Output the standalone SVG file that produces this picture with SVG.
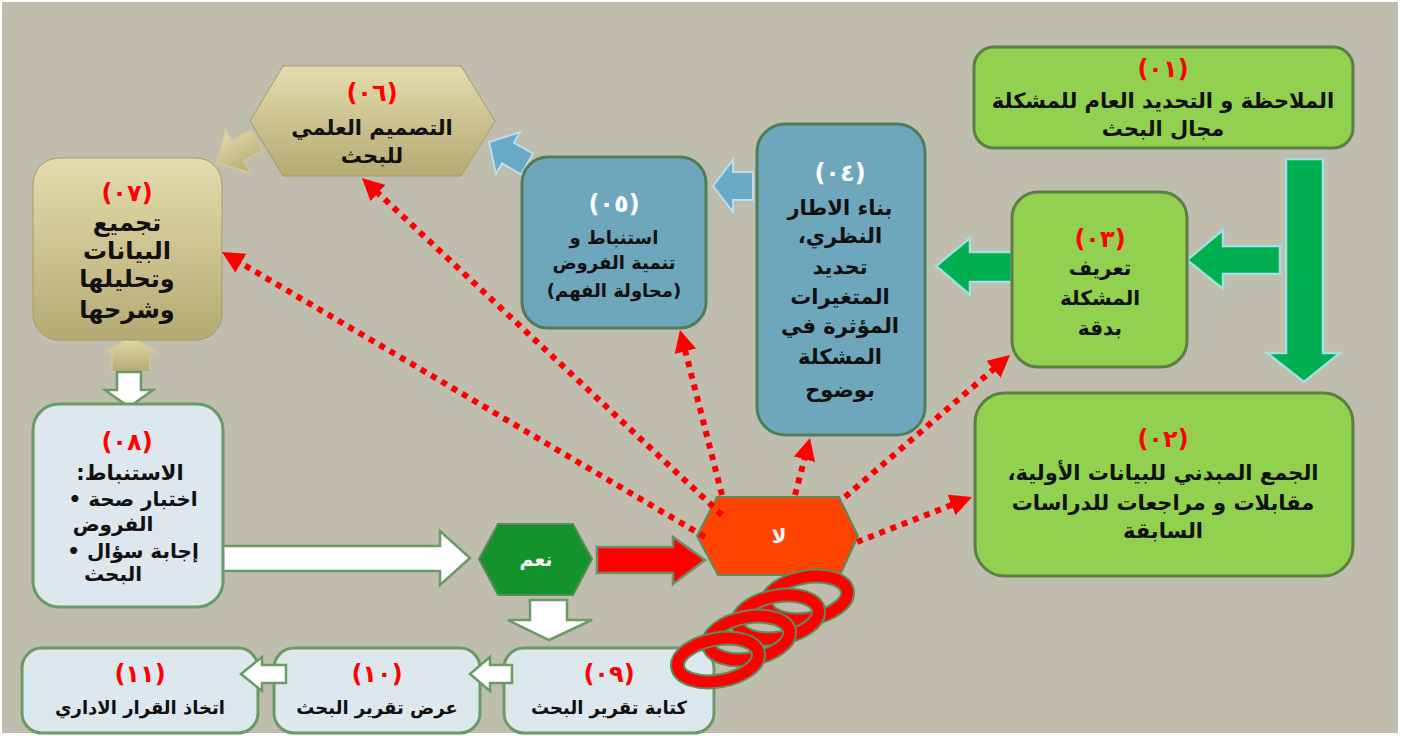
<svg xmlns="http://www.w3.org/2000/svg" width="1403" height="736" viewBox="0 0 1403 736">
<style>
.t{font-family:"DejaVu Sans","Noto Sans",sans-serif;font-weight:bold;text-anchor:middle;direction:rtl;fill:#111;font-size:20px}
.s{font-size:18px}
.b{font-size:24px}
.m{font-size:21px}
.num{fill:#FF0000;font-size:24px;letter-spacing:3px}
.wn{fill:#FFFFFF;font-size:24px;letter-spacing:3px}
.green{fill:#92D050;stroke:#5E7F43;stroke-width:3}
.blue{fill:#6EA6BC;stroke:#4E7D58;stroke-width:3}
.tan{fill:url(#tanG);stroke:#A39B6A;stroke-width:1}
.light{fill:#DCE7EE;stroke:#6A9A66;stroke-width:3}
.garr{fill:#00B050;stroke:#A6DDE0;stroke-width:2.5}
.barr{fill:#6BAAC6;stroke:#BCDDEA;stroke-width:2}
.tarr{fill:url(#tanG);stroke:#CFC89C;stroke-width:1.5}
.warr{fill:#FFFFFF;stroke:#6A9A66;stroke-width:2.5}
.dot{fill:none;stroke:#FF0000;stroke-width:6;stroke-dasharray:6 6;marker-end:url(#rh)}
.ring{fill:none;stroke:#5E8A5A;stroke-width:15}
.ringr{fill:none;stroke:#FF0000;stroke-width:11}
</style>
<defs>
<linearGradient id="tanG" x1="0" y1="0" x2="0" y2="1">
<stop offset="0" stop-color="#E4DCAE"/>
<stop offset="1" stop-color="#B4AA72"/>
</linearGradient>
<marker id="rh" markerUnits="userSpaceOnUse" markerWidth="24" markerHeight="24" refX="4" refY="11" orient="auto">
<path d="M0,0 L22,11 L0,22 z" fill="#FF0000"/>
</marker>
</defs>
<rect x="0" y="0" width="1403" height="736" fill="#FFFFFF"/>
<rect x="2" y="2" width="1396" height="731" fill="#BFBDAE"/>

<g id="arrows-block">
<polygon class="garr" points="1286,159 1323,159 1323,353 1340,353 1304,382 1267,353 1286,353"/>
<polygon class="garr" points="1280,246 1223,246 1223,230 1187,260 1223,289 1223,274 1280,274"/>
<polygon class="garr" points="1012,252 970,252 970,238 936,266 970,295 970,282 1012,282"/>
<polygon class="barr" points="753,172 733,172 733,160 713,186 733,212 733,200 753,200"/>
<polygon class="barr" transform="translate(508,153) rotate(30)" points="22,-12 0,-12 0,-24 -22,0 0,24 0,12 22,12"/>
<polygon class="tarr" transform="translate(236,152) rotate(-30)" points="24,-12 2,-12 2,-25 -22,0 2,25 2,12 24,12"/>
<polygon class="tarr" points="131,336 157,352 150,352 150,372 112,372 112,352 105,352"/>
<polygon class="warr" points="117,372 141,372 141,390 153,390 129,407 105,390 117,390"/>
<polygon class="warr" points="222,546 440,546 440,531 470,558 440,585 440,571 222,571"/>
<polygon fill="#FF0000" stroke="#6C8C6A" stroke-width="2.5" points="597,547 673,547 673,537 705,560 673,584 673,573 597,573"/>
<polygon class="warr" points="530,600 567,600 567,620 592,620 549,640 508,620 530,620"/>
</g>

<g id="n01">
<rect class="green" x="974" y="47" width="379" height="101" rx="20"/>
<text class="t num" x="1163" y="77">(٠١)</text>
<text class="t m" x="1163" y="108">الملاحظة و التحديد العام للمشكلة</text>
<text class="t m" x="1163" y="136">مجال البحث</text>
</g>
<g id="n03">
<rect class="green" x="1012" y="192" width="175" height="175" rx="26"/>
<text class="t num" x="1100" y="247">(٠٣)</text>
<text class="t" x="1100" y="275">تعريف</text>
<text class="t" x="1100" y="305">المشكلة</text>
<text class="t" x="1100" y="335">بدقة</text>
</g>
<g id="n02">
<rect class="green" x="975" y="393" width="378" height="183" rx="30"/>
<text class="t num" x="1163" y="447">(٠٢)</text>
<text class="t m" x="1163" y="480">الجمع المبدني للبيانات الأولية،</text>
<text class="t m" x="1163" y="510">مقابلات و مراجعات للدراسات</text>
<text class="t m" x="1163" y="538">السابقة</text>
</g>
<g id="n04">
<rect class="blue" x="757" y="124" width="168" height="311" rx="28"/>
<text class="t wn" x="840" y="181">(٠٤)</text>
<text class="t m" x="840" y="215">بناء الاطار</text>
<text class="t m" x="840" y="243">النظري،</text>
<text class="t m" x="840" y="274">تحديد</text>
<text class="t m" x="840" y="304">المتغيرات</text>
<text class="t m" x="840" y="333">المؤثرة في</text>
<text class="t m" x="840" y="364">المشكلة</text>
<text class="t m" x="840" y="397">بوضوح</text>
</g>
<g id="n05">
<rect class="blue" x="522" y="157" width="184" height="171" rx="26"/>
<text class="t wn" x="614" y="212">(٠٥)</text>
<text class="t s" x="614" y="244">استنباط و</text>
<text class="t s" x="614" y="269">تنمية الفروض</text>
<text class="t s" x="614" y="297">(محاولة الفهم)</text>
</g>
<g id="n06">
<polygon class="tan" points="250,121 283,66 461,66 495,121 461,176 283,176"/>
<text class="t num" x="372" y="101">(٠٦)</text>
<text class="t m" x="372" y="135">التصميم العلمي</text>
<text class="t m" x="372" y="163">للبحث</text>
</g>
<g id="n07">
<rect class="tan" x="33" y="158" width="189" height="182" rx="26"/>
<text class="t num" x="127" y="201">(٠٧)</text>
<text class="t b" x="127" y="231">تجميع</text>
<text class="t b" x="127" y="259">البيانات</text>
<text class="t b" x="127" y="287">وتحليلها</text>
<text class="t b" x="127" y="318">وشرحها</text>
</g>
<g id="n08">
<rect class="light" x="33" y="404" width="190" height="203" rx="26"/>
<text class="t num" x="127" y="450">(٠٨)</text>
<text class="t m" x="130" y="480">الاستنباط:</text>
<text class="t" x="133" y="506">اختبار صحة •</text>
<text class="t" x="113" y="531">الفروض</text>
<text class="t" x="133" y="558">إجابة سؤال •</text>
<text class="t" x="113" y="581">البحث</text>
</g>
<g id="yes">
<polygon fill="#14922C" stroke="#5C8A5C" stroke-width="2" points="479,559 498,524 573,524 592,559 573,595 498,595"/>
<text class="t" x="536" y="566" style="fill:#FFFFFF;font-size:19px">نعم</text>
</g>
<g id="no">
<polygon fill="#FF4300" stroke="#5C8A5C" stroke-width="2" points="697,536 717,497 839,497 858,536 840,575 718,575"/>
<text class="t" x="779" y="543" style="fill:#FFFFFF;font-size:20px">لا</text>
</g>
<g id="n09">
<rect class="light" x="504" y="648" width="210" height="85" rx="20"/>
<text class="t num" x="609" y="682">(٠٩)</text>
<text class="t s" x="609" y="714">كتابة تقرير البحث</text>
</g>
<g id="n10">
<rect class="light" x="274" y="648" width="206" height="85" rx="20"/>
<text class="t num" x="377" y="682">(١٠)</text>
<text class="t s" x="377" y="714">عرض تقرير البحث</text>
</g>
<g id="n11">
<rect class="light" x="22" y="648" width="236" height="85" rx="20"/>
<text class="t num" x="140" y="682">(١١)</text>
<text class="t s" x="140" y="714">اتخاذ القرار الاداري</text>
</g>
<g id="arrows-bottom">
<polygon class="warr" points="512,665 490,665 490,657 470,674 490,691 490,683 512,683"/>
<polygon class="warr" points="286,665 262,665 262,657 241,674 262,691 262,683 286,683"/>
</g>

<g id="connectors">
<line class="dot" x1="705" y1="537" x2="237.5" y2="261.1"/>
<line class="dot" x1="722" y1="515" x2="375.1" y2="190.3"/>
<line class="dot" x1="722" y1="495" x2="684.4" y2="347.4"/>
<line class="dot" x1="795" y1="495" x2="805.4" y2="455.4"/>
<line class="dot" x1="845" y1="497" x2="996.4" y2="366.7"/>
<line class="dot" x1="857" y1="542" x2="955.2" y2="503.6"/>
</g>

<g id="rings">
<g transform="rotate(-10 807 598)"><ellipse class="ring" cx="807" cy="598" rx="41" ry="21"/><ellipse class="ringr" cx="807" cy="598" rx="41" ry="21"/></g>
<g transform="rotate(-10 778 617)"><ellipse class="ring" cx="778" cy="617" rx="41" ry="21"/><ellipse class="ringr" cx="778" cy="617" rx="41" ry="21"/></g>
<g transform="rotate(-10 749 638)"><ellipse class="ring" cx="749" cy="638" rx="41" ry="21"/><ellipse class="ringr" cx="749" cy="638" rx="41" ry="21"/></g>
<g transform="rotate(-10 718 660)"><ellipse class="ring" cx="718" cy="660" rx="41" ry="21"/><ellipse class="ringr" cx="718" cy="660" rx="41" ry="21"/></g>
</g>
</svg>
